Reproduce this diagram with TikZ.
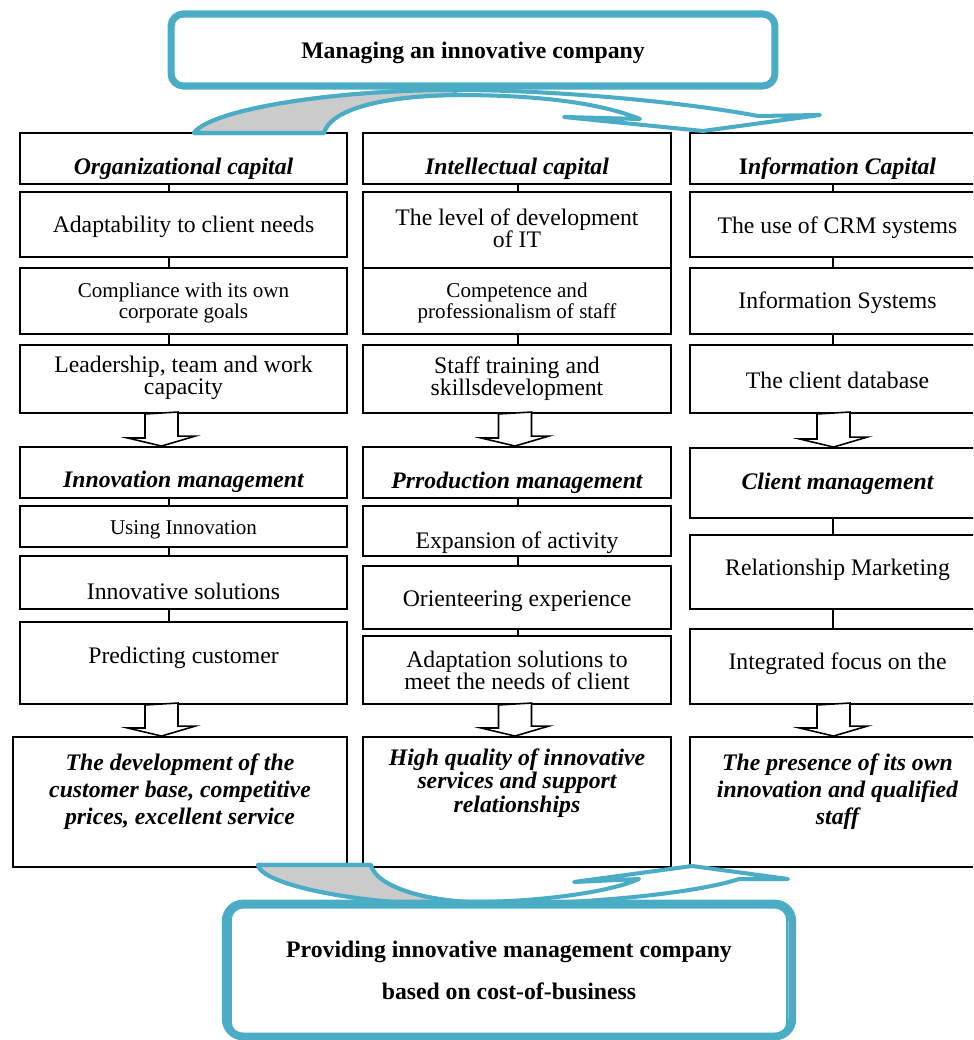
\documentclass[tikz,border=0pt]{standalone}
\usepackage{fontspec}
\setmainfont{Liberation Serif}
\definecolor{smartcyan}{HTML}{4BACC6}
\definecolor{bandgray}{HTML}{CBCBCB}

\begin{document}
\begin{tikzpicture}[x=0.02cm, y=-0.02cm,
  cell/.style={rectangle, draw=black, line width=1.1pt, fill=white, inner sep=0pt},
  col1/.style={cell, minimum width=6.54cm},
  col2/.style={cell, minimum width=6.16cm},
  col3/.style={cell, minimum width=5.9cm},
  head/.style={inner sep=0pt, font=\fontsize{13.5}{14}\selectfont\bfseries\itshape},
  txt/.style={inner sep=0pt, align=center, font=\fontsize{13.5}{12.6}\selectfont},
  small/.style={inner sep=0pt, align=center, font=\fontsize{12}{12}\selectfont},
  goal/.style={inner sep=0pt, align=center, font=\fontsize{13.5}{15.3}\selectfont\bfseries\itshape},
  link/.style={draw=black, line width=1.1pt},
  hollow/.style={draw=black, line width=0.9pt, fill=white},
  band/.style={draw=smartcyan, line width=2.3pt, fill=white, line join=round},
  frame/.style={rectangle, draw=smartcyan, fill=white, align=center, font=\fontsize{13.5}{24}\selectfont\bfseries}
]
\useasboundingbox (0,0) rectangle (973,1040);
\clip (0,0) rectangle (973,1040);

% axes of the links and of the block arrows
\coordinate (c1) at (169,0);
\coordinate (c2) at (518,0);
\coordinate (c3) at (833,0);
\coordinate (k1) at (161.5,0);
\coordinate (k2) at (515,0);
\coordinate (k3) at (833.5,0);

% left column
\node[col1, minimum height=1.02cm] (oc) at (183.5,158.5) {};
\node[head] (oc-t) at (183.5,169) {Organizational capital};
\node[col1, minimum height=1.3cm] (adapt) at (183.5,224.5) {};
\node[txt] (adapt-t) at (183.5,227) {Adaptability to client needs};
\node[col1, minimum height=1.32cm] (compl) at (183.5,301) {};
\node[small] (compl-t) at (183.5,303) {Compliance with its own\\corporate goals};
\node[col1, minimum height=1.36cm] (lead) at (183.5,379) {};
\node[txt] (lead-t) at (183.5,378) {Leadership, team and work\\capacity};
\node[col1, minimum height=1.02cm] (im) at (183.5,472.5) {};
\node[head] (im-t) at (183.5,482) {Innovation management};
\node[col1, minimum height=0.82cm] (useinn) at (183.5,526.5) {};
\node[small] (useinn-t) at (183.5,530) {Using Innovation};
\node[col1, minimum height=1.06cm] (innsol) at (183.5,582.5) {};
\node[txt] (innsol-t) at (183.5,591) {Innovative solutions};
\node[col1, minimum height=1.64cm] (pred) at (183.5,663) {};
\node[txt] (pred-t) at (183.5,658) {Predicting customer};
\node[cell, minimum width=6.68cm, minimum height=2.6cm] (res1) at (180,802) {};
\node[goal] (res1-t) at (180,792) {The development of the\\customer base, competitive\\prices, excellent service};

% middle column
\node[col2, minimum height=1.02cm] (ic) at (517,158.5) {};
\node[head] (ic-t) at (517,169) {Intellectual capital};
\node[col2, minimum height=1.52cm] (level) at (517,230) {};
\node[txt] (level-t) at (517,228) {The level of development\\of IT};
\node[col2, minimum height=1.32cm] (comp) at (517,301) {};
\node[small] (comp-t) at (517,303) {Competence and\\professionalism of staff};
\node[col2, minimum height=1.36cm] (train) at (517,379) {};
\node[txt] (train-t) at (517,379) {Staff training and\\skillsdevelopment};
\node[col2, minimum height=1.02cm] (pm) at (517,472.5) {};
\node[head] (pm-t) at (517,483) {Prroduction management};
\node[col2, minimum height=1.0cm] (expan) at (517,531) {};
\node[txt] (expan-t) at (517,543) {Expansion of activity};
\node[col2, minimum height=1.26cm] (orient) at (517,597.5) {};
\node[txt] (orient-t) at (517,601) {Orienteering experience};
\node[col2, minimum height=1.36cm] (adapsol) at (517,670) {};
\node[txt] (adapsol-t) at (517,670) {Adaptation solutions to\\meet the needs of client};
\node[col2, minimum height=2.6cm] (res2) at (517,802) {};
\node[goal, font=\fontsize{13.5}{12.2}\selectfont\bfseries\itshape] (res2-t) at (517,783) {High quality of innovative\\services and support\\relationships};

% right column
\node[col3, minimum height=1.02cm] (infc) at (837.5,158.5) {};
\node[head] (infc-t) at (837.5,169) {\textup{I}nformation Capital};
\node[col3, minimum height=1.3cm] (crm) at (837.5,224.5) {};
\node[txt] (crm-t) at (837.5,228) {The use of CRM systems};
\node[col3, minimum height=1.32cm] (infsys) at (837.5,301) {};
\node[txt] (infsys-t) at (837.5,303) {Information Systems};
\node[col3, minimum height=1.36cm] (cdb) at (837.5,379) {};
\node[txt] (cdb-t) at (837.5,380) {The client database};
\node[col3, minimum height=1.4cm] (cm) at (837.5,483) {};
\node[head] (cm-t) at (837.5,484) {Client management};
\node[col3, minimum height=1.48cm] (relm) at (837.5,572) {};
\node[txt] (relm-t) at (837.5,570) {Relationship Marketing};
\node[col3, minimum height=1.5cm] (integ) at (837.5,666.5) {};
\node[txt] (integ-t) at (837.5,664) {Integrated focus on the};
\node[col3, minimum height=2.6cm] (res3) at (837.5,802) {};
\node[goal] (res3-t) at (837.5,792) {The presence of its own\\innovation and qualified\\staff};

% links inside the columns
\draw[link] (oc.south -| c1) -- (adapt.north -| c1);
\draw[link] (adapt.south -| c1) -- (compl.north -| c1);
\draw[link] (compl.south -| c1) -- (lead.north -| c1);
\draw[link] (im.south -| c1) -- (useinn.north -| c1);
\draw[link] (useinn.south -| c1) -- (innsol.north -| c1);
\draw[link] (innsol.south -| c1) -- (pred.north -| c1);
\draw[link] (ic.south -| c2) -- (level.north -| c2);
\draw[link] (comp.south -| c2) -- (train.north -| c2);
\draw[link] (pm.south -| c2) -- (expan.north -| c2);
\draw[link] (expan.south -| c2) -- (orient.north -| c2);
\draw[link] (orient.south -| c2) -- (adapsol.north -| c2);
\draw[link] (infc.south -| c3) -- (crm.north -| c3);
\draw[link] (crm.south -| c3) -- (infsys.north -| c3);
\draw[link] (infsys.south -| c3) -- (cdb.north -| c3);
\draw[link] (cm.south -| c3) -- (relm.north -| c3);
\draw[link] (relm.south -| c3) -- (integ.north -| c3);

% hollow block arrows
\draw[hollow] (lead.south -| k1) ++(-16.5,0) -- ++(0,24) -- ++(-17.5,0) -- (im.north -| k1) -- ++(34,-10) -- ++(-17.5,0) -- ++(0,-24) -- cycle;
\draw[hollow] (pred.south -| k1) ++(-16.5,0) -- ++(0,23) -- ++(-17.5,0) -- (res1.north -| k1) -- ++(34,-10) -- ++(-17.5,0) -- ++(0,-23) -- cycle;
\draw[hollow] (train.south -| k2) ++(-16.5,0) -- ++(0,24) -- ++(-17.5,0) -- (pm.north -| k2) -- ++(34,-10) -- ++(-17.5,0) -- ++(0,-24) -- cycle;
\draw[hollow] (adapsol.south -| k2) ++(-16.5,0) -- ++(0,23) -- ++(-17.5,0) -- (res2.north -| k2) -- ++(34,-10) -- ++(-17.5,0) -- ++(0,-23) -- cycle;
\draw[hollow] (cdb.south -| k3) ++(-16.5,0) -- ++(0,25) -- ++(-17.5,0) -- (cm.north -| k3) -- ++(34,-10) -- ++(-17.5,0) -- ++(0,-25) -- cycle;
\draw[hollow] (integ.south -| k3) ++(-16.5,0) -- ++(0,23) -- ++(-17.5,0) -- (res3.north -| k3) -- ++(34,-10) -- ++(-17.5,0) -- ++(0,-23) -- cycle;

% curved band under the title
\path[band] (194,133) .. controls (210,110) and (330,90) .. (455,90)
  .. controls (560,90) and (690,103) .. (758,116) -- (820,115) -- (703,131) -- (564,117) -- (640,119)
  .. controls (600,103) and (540,95) .. (455,95) .. controls (380,96) and (330,110) .. (324,133) -- cycle;
\path[band, fill=bandgray] (194,133) .. controls (210,110) and (330,90) .. (455,90) -- (455,95)
  .. controls (380,96) and (330,110) .. (324,133) -- cycle;

% curved band above the outcome
\path[band] (258,865) .. controls (262,885) and (360,905) .. (466,905)
  .. controls (570,905) and (690,895) .. (739,879) -- (788,879) -- (692,866) -- (574,882) -- (639,879)
  .. controls (610,892) and (540,902) .. (470,902) .. controls (420,900) and (375,885) .. (371,865) -- cycle;
\path[band, fill=bandgray] (258,865) .. controls (262,885) and (360,905) .. (466,905) -- (470,902)
  .. controls (420,900) and (375,885) .. (371,865) -- cycle;

% title and outcome frames
\node[frame, line width=4pt, rounded corners=7pt, minimum width=12.08cm, minimum height=1.44cm] (mgmt) at (473,50) {\raisebox{-1.8pt}[\height][\depth]{Managing an innovative company}};
\node[frame, line width=4.5pt, rounded corners=10pt, minimum width=11.33cm, minimum height=2.66cm] (outcome) at (509,970) {Providing innovative management company\\based on cost-of-business};
\draw[smartcyan, line width=1.1pt, rounded corners=7pt] ([shift={(9,8)}]outcome.north west) rectangle ([shift={(-9,-6)}]outcome.south east);
\end{tikzpicture}
\end{document}
